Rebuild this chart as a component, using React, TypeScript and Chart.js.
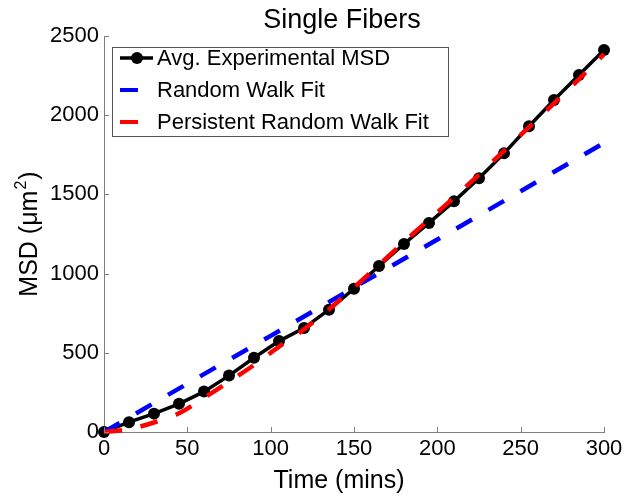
import { useEffect, useRef } from 'react';
import { Chart, registerables } from 'chart.js';

Chart.register(...registerables);

const chartTitle = 'Single Fibers';
const xAxisTitle = 'Time (mins)';
const legendLabels = ['Avg. Experimental MSD', 'Random Walk Fit', 'Persistent Random Walk Fit'];

const timeMins = [0, 15, 30, 45, 60, 75, 90, 105, 120, 135, 150, 165, 180, 195, 210, 225, 240, 255, 270, 285, 300];
const avgMSD = [0, 62, 116, 178, 255, 356, 469, 574, 656, 772, 905, 1048, 1187, 1320, 1456, 1602, 1759, 1930, 2096, 2254, 2412];

const rwTime = [0, 50, 100, 150, 200, 250, 300];
const rwFit = [0, 305, 607, 912, 1215, 1520, 1825];

const prwTime = [0, 15, 30, 45, 60, 75, 90, 105, 120, 135, 150, 165, 180, 195, 210, 225, 240, 255, 270, 285, 300];
const prwFit = [0, 18, 60, 118, 215, 318, 423, 539, 648, 775, 912, 1055, 1200, 1340, 1480, 1625, 1775, 1925, 2075, 2228, 2385];

const xMin = 0, xMax = 300, xStep = 50;
const yMin = 0, yMax = 2500, yStep = 500;

const FONT = '"Liberation Sans", Arial, Helvetica, sans-serif';
const AXIS_GRAY = '#808080';

const decorPlugin = {
  id: 'decor',
  afterDraw(chart: any) {
    const { ctx, chartArea: a, scales } = chart;
    ctx.save();
    // inward tick marks
    ctx.strokeStyle = AXIS_GRAY;
    ctx.lineWidth = 1;
    ctx.beginPath();
    scales.x.ticks.forEach((t: any) => {
      const px = Math.round(scales.x.getPixelForValue(t.value)) + 0.5;
      ctx.moveTo(px, a.bottom);
      ctx.lineTo(px, a.bottom - 5);
    });
    scales.y.ticks.forEach((t: any) => {
      const py = Math.round(scales.y.getPixelForValue(t.value)) + 0.5;
      ctx.moveTo(a.left, py);
      ctx.lineTo(a.left + 5, py);
    });
    ctx.stroke();

    const cx = (a.left + a.right) / 2 - 12;
    ctx.fillStyle = '#000';
    // title
    ctx.font = `27px ${FONT}`;
    ctx.textAlign = 'center';
    ctx.textBaseline = 'alphabetic';
    ctx.fillText(chartTitle, cx, a.top - 8);
    // x title
    ctx.font = `25px ${FONT}`;
    ctx.fillText(xAxisTitle, cx - 3, a.bottom + 56);

    // y title with superscript
    const main = `25px ${FONT}`;
    const sup = `16px ${FONT}`;
    const p1 = 'MSD (\u03bcm';
    const p2 = '2';
    const p3 = ')';
    ctx.font = main;
    const w1 = ctx.measureText(p1).width;
    const w3 = ctx.measureText(p3).width;
    ctx.font = sup;
    const w2 = ctx.measureText(p2).width;
    const total = w1 + w2 + w3 + 2;
    ctx.save();
    ctx.translate(37, (a.top + a.bottom) / 2);
    ctx.rotate(-Math.PI / 2);
    ctx.textAlign = 'left';
    let sx = -total / 2;
    ctx.font = main;
    ctx.fillText(p1, sx, 0);
    sx += w1 + 1;
    ctx.font = sup;
    ctx.fillText(p2, sx, -11);
    sx += w2 + 1;
    ctx.font = main;
    ctx.fillText(p3, sx, 0);
    ctx.restore();

    // legend
    const x0 = a.left + 8;
    const y0 = a.top + 11;
    const bw = 336;
    const bh = 89;
    ctx.fillStyle = '#fff';
    ctx.fillRect(x0, y0, bw, bh);
    ctx.strokeStyle = '#555';
    ctx.lineWidth = 1;
    ctx.strokeRect(x0 + 0.5, y0 + 0.5, bw, bh);
    const colors = ['#000000', '#0000ff', '#ff0000'];
    legendLabels.forEach((label, i) => {
      const ry = y0 + 11 + i * 32;
      ctx.strokeStyle = colors[i];
      ctx.lineCap = 'butt';
      ctx.beginPath();
      if (i === 0) {
        ctx.lineWidth = 3.5;
        ctx.moveTo(x0 + 8, ry);
        ctx.lineTo(x0 + 41, ry);
        ctx.stroke();
        ctx.fillStyle = '#000';
        ctx.beginPath();
        ctx.arc(x0 + 25, ry, 6, 0, Math.PI * 2);
        ctx.fill();
      } else {
        ctx.lineWidth = 4;
        ctx.moveTo(x0 + 8, ry);
        ctx.lineTo(x0 + 26, ry);
        ctx.stroke();
      }
      ctx.fillStyle = '#000';
      ctx.font = `22px ${FONT}`;
      ctx.textAlign = 'left';
      ctx.textBaseline = 'middle';
      ctx.fillText(label, x0 + 45, ry + 1);
    });
    ctx.restore();
  },
};

export default function App() {
  const ref = useRef<HTMLCanvasElement | null>(null);
  useEffect(() => {
    if (!ref.current) return;
    const toPts = (xs: number[], ys: number[]) => xs.map((x, i) => ({ x, y: ys[i] }));
    const plain = (v: any) => String(v);
    const chart = new Chart(ref.current, {
      type: 'line',
      data: {
        datasets: [
          {
            label: legendLabels[0],
            data: toPts(timeMins, avgMSD),
            borderColor: '#000',
            backgroundColor: '#000',
            borderWidth: 3.5,
            pointRadius: 6,
            pointBorderWidth: 0,
            pointBackgroundColor: '#000',
            tension: 0,
            clip: false,
            order: 2,
          } as any,
          {
            label: legendLabels[1],
            data: toPts(rwTime, rwFit),
            borderColor: '#0000ff',
            borderWidth: 4.5,
            borderDash: [18, 19],
            pointRadius: 0,
            tension: 0,
            clip: false,
            order: 1,
          } as any,
          {
            label: legendLabels[2],
            data: toPts(prwTime, prwFit),
            borderColor: '#ff0000',
            borderWidth: 4.5,
            borderDash: [18, 19],
            pointRadius: 0,
            tension: 0.3,
            clip: false,
            order: 0,
          } as any,
        ],
      },
      options: {
        animation: false,
        responsive: false,
        maintainAspectRatio: false,
        layout: { padding: { left: 0, right: 23, top: 36, bottom: 0 } },
        plugins: { legend: { display: false }, title: { display: false }, tooltip: { enabled: false } },
        scales: {
          x: {
            type: 'linear',
            min: xMin,
            max: xMax,
            grid: { display: true, drawOnChartArea: false, drawTicks: false },
            border: { display: true, color: AXIS_GRAY, width: 1 },
            ticks: { stepSize: xStep, padding: 4, color: '#000', font: { size: 22, family: FONT }, maxRotation: 0, callback: plain },
            afterFit: (s: any) => { s.height = 70; },
          },
          y: {
            type: 'linear',
            min: yMin,
            max: yMax,
            grid: { display: true, drawOnChartArea: false, drawTicks: false },
            border: { display: true, color: AXIS_GRAY, width: 1 },
            ticks: { stepSize: yStep, padding: 5, color: '#000', font: { size: 22, family: FONT }, callback: plain },
            afterFit: (s: any) => { s.width = 104; },
          },
        },
      },
      plugins: [decorPlugin],
    });
    return () => chart.destroy();
  }, []);
  return (
    <div style={{ position: 'fixed', left: 0, top: 0, width: 627, height: 502, background: '#fff' }}>
      <canvas ref={ref} width={627} height={502} />
    </div>
  );
}
